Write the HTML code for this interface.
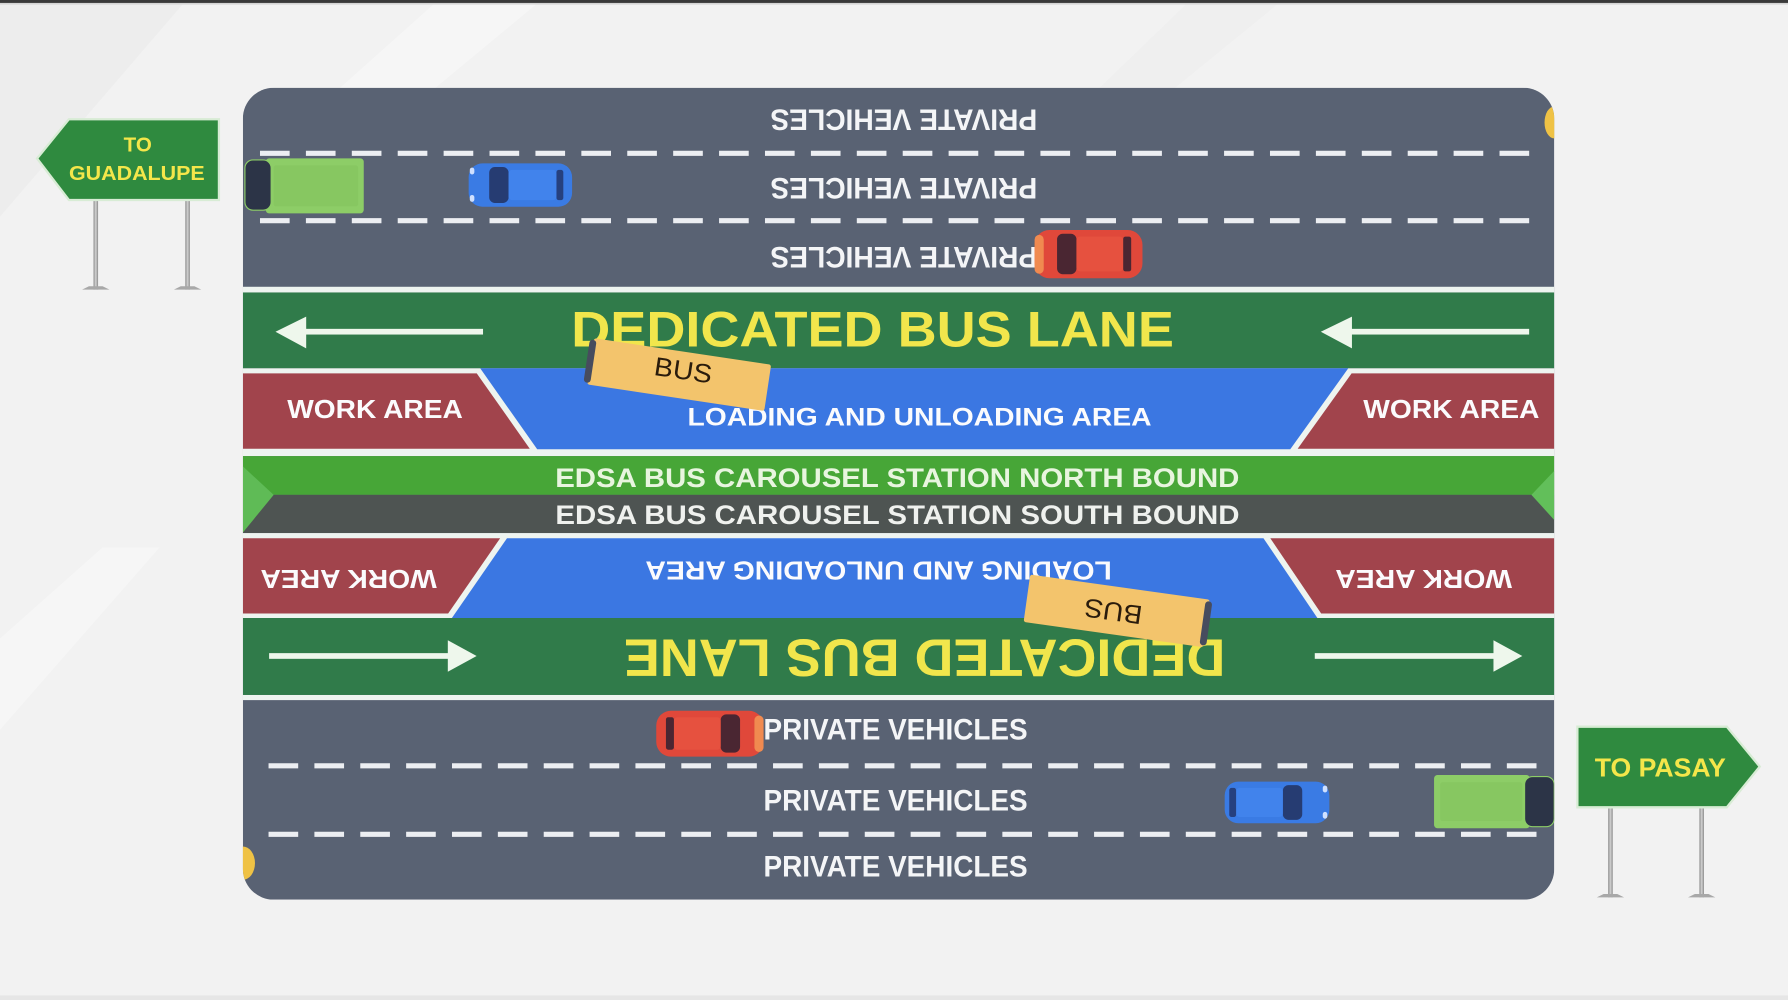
<!DOCTYPE html>
<html>
<head>
<meta charset="utf-8">
<style>
html,body{margin:0;padding:0;width:1788px;height:1000px;overflow:hidden;background:#f2f2f2}
svg{display:block}
text{font-family:"Liberation Sans",Arial,sans-serif;font-weight:bold}
</style>
</head>
<body>
<svg width="1788" height="1000" viewBox="0 0 1568 877" preserveAspectRatio="none" xmlns="http://www.w3.org/2000/svg">
<defs>
<clipPath id="road"><rect x="213" y="77" width="1150" height="712" rx="27" ry="27"/></clipPath>
<linearGradient id="pole" x1="0" x2="1" y1="0" y2="0">
<stop offset="0" stop-color="#8a8a8a"/><stop offset=".5" stop-color="#d2d2d2"/><stop offset="1" stop-color="#8a8a8a"/>
</linearGradient>
</defs>

<!-- background -->
<rect width="1568" height="877" fill="#f2f2f2"/>
<polygon points="0,4 160,4 0,190" fill="#e6e6e6" opacity=".35"/>
<polygon points="380,4 470,4 330,120 250,120" fill="#ffffff" opacity=".35"/>
<polygon points="1040,4 1120,4 990,110 930,110" fill="#e9e9e9" opacity=".25"/>
<polygon points="0,560 90,480 140,480 0,640" fill="#ffffff" opacity=".35"/>
<rect x="0" y="0" width="1568" height="2.6" fill="#3a3a3a"/>
<rect x="0" y="2.6" width="1568" height="1.4" fill="#d4d4d4"/>
<rect x="0" y="873" width="1568" height="4" fill="#e6e6e6"/>

<!-- road -->
<g clip-path="url(#road)">
<rect x="213" y="77" width="1150" height="712" fill="#596273"/>

<g stroke="#eceef2" stroke-width="4.5">
<line x1="228" y1="134.5" x2="1345" y2="134.5" stroke-dasharray="26 14.26"/>
<line x1="228" y1="193.5" x2="1345" y2="193.5" stroke-dasharray="26 14.26"/>
<line x1="235.5" y1="671.6" x2="1348" y2="671.6" stroke-dasharray="26 14.22"/>
<line x1="235.5" y1="731.7" x2="1348" y2="731.7" stroke-dasharray="26 14.22"/>
</g>

<rect x="213" y="251.5" width="1150" height="5" fill="#eef4f0"/>
<rect x="213" y="256.5" width="1150" height="66.5" fill="#307b4a"/>

<rect x="213" y="323" width="1150" height="77" fill="#eef4f0"/>
<polygon points="421.1,323 1182.4,323 1131.5,394 471.1,394" fill="#3b77e2"/>
<polygon points="213,327.5 418.1,327.5 464.6,393.5 213,393.5" fill="#a1444c"/>
<polygon points="1185.3,327.5 1363,327.5 1363,393.5 1138,393.5" fill="#a1444c"/>

<rect x="213" y="400" width="1150" height="34" fill="#47a637"/>
<rect x="213" y="434" width="1150" height="33.5" fill="#4e5452"/>
<polygon points="213,409 240,434 213,467" fill="#5fbb56"/>
<polygon points="1363,413 1343,434 1363,456" fill="#62bf5a"/>

<rect x="213" y="467.5" width="1150" height="74.5" fill="#eef4f0"/>
<polygon points="444.6,472 1108,472 1155.3,542 396.3,542" fill="#3b77e2"/>
<polygon points="213,472 438.6,472 393,538 213,538" fill="#a1444c"/>
<polygon points="1114,472 1363,472 1363,538 1158.6,538" fill="#a1444c"/>

<rect x="213" y="542" width="1150" height="67.5" fill="#307b4a"/>
<rect x="213" y="609.5" width="1150" height="4.5" fill="#eef4f0"/>

<g fill="#eef7ec">
<rect x="262" y="288.4" width="161.6" height="5"/>
<polygon points="241.6,290.9 268.5,277.7 268.5,305.5"/>
<rect x="1180" y="288.4" width="161" height="5"/>
<polygon points="1158.3,290.9 1185.6,277.7 1185.6,305.5"/>
<rect x="236" y="572.8" width="162" height="5"/>
<polygon points="418,575.3 392.7,561.5 392.7,589.1"/>
<rect x="1153" y="572.8" width="162" height="5"/>
<polygon points="1335,575.3 1309.7,561.5 1309.7,589.1"/>
</g>

<g fill="#f4f5f7" font-size="26">
<text x="792.6" y="114" text-anchor="middle" textLength="234" lengthAdjust="spacingAndGlyphs" transform="rotate(180 792.6 105)">PRIVATE VEHICLES</text>
<text x="792.6" y="174.2" text-anchor="middle" textLength="234" lengthAdjust="spacingAndGlyphs" transform="rotate(180 792.6 165.2)">PRIVATE VEHICLES</text>
<text x="792.6" y="234.8" text-anchor="middle" textLength="234" lengthAdjust="spacingAndGlyphs" transform="rotate(180 792.6 225.8)">PRIVATE VEHICLES</text>
<text x="785.4" y="648.4" text-anchor="middle" textLength="231.6" lengthAdjust="spacingAndGlyphs">PRIVATE VEHICLES</text>
<text x="785.4" y="711" text-anchor="middle" textLength="231.6" lengthAdjust="spacingAndGlyphs">PRIVATE VEHICLES</text>
<text x="785.4" y="768.8" text-anchor="middle" textLength="231.6" lengthAdjust="spacingAndGlyphs">PRIVATE VEHICLES</text>
</g>

<g fill="#f1e64c">
<text x="765.2" y="304" font-size="44" text-anchor="middle" textLength="528.5" lengthAdjust="spacingAndGlyphs">DEDICATED BUS LANE</text>
<text x="810.8" y="593.4" font-size="46" text-anchor="middle" textLength="527.5" lengthAdjust="spacingAndGlyphs" transform="rotate(180 810.8 577.2)">DEDICATED BUS LANE</text>
</g>

<g fill="#fbfbfd">
<text x="806.4" y="373" font-size="22" text-anchor="middle" textLength="407" lengthAdjust="spacingAndGlyphs">LOADING AND UNLOADING AREA</text>
<text x="770.5" y="509" font-size="23" text-anchor="middle" textLength="409" lengthAdjust="spacingAndGlyphs" transform="rotate(180 770.5 500.8)">LOADING AND UNLOADING AREA</text>
<text x="328.9" y="366.8" font-size="23" text-anchor="middle" textLength="154" lengthAdjust="spacingAndGlyphs">WORK AREA</text>
<text x="1272.8" y="366.8" font-size="23" text-anchor="middle" textLength="154.5" lengthAdjust="spacingAndGlyphs">WORK AREA</text>
<text x="305.7" y="515.8" font-size="23" text-anchor="middle" textLength="154.7" lengthAdjust="spacingAndGlyphs" transform="rotate(180 305.7 507.9)">WORK AREA</text>
<text x="1248.5" y="515.8" font-size="23" text-anchor="middle" textLength="155" lengthAdjust="spacingAndGlyphs" transform="rotate(180 1248.5 507.9)">WORK AREA</text>
</g>

<text x="786.9" y="426.9" font-size="23.5" fill="#e8f5df" text-anchor="middle" textLength="600" lengthAdjust="spacingAndGlyphs">EDSA BUS CAROUSEL STATION NORTH BOUND</text>
<text x="787" y="459.6" font-size="23.5" fill="#eff1ee" text-anchor="middle" textLength="600" lengthAdjust="spacingAndGlyphs">EDSA BUS CAROUSEL STATION SOUTH BOUND</text>

<ellipse cx="1363" cy="107.4" rx="8.5" ry="14" fill="#efc245"/>
<ellipse cx="213" cy="757" rx="10.6" ry="14.6" fill="#efc245"/>

<!-- top green truck -->
<rect x="233" y="138.9" width="86" height="48.2" rx="3" fill="#8dcd67"/>
<rect x="240" y="145" width="74" height="36" rx="2" fill="#84c45f" opacity=".7"/>
<rect x="214.8" y="140.3" width="23" height="44" rx="7" fill="#2c3447" stroke="#8dcd67" stroke-width="1"/>

<!-- top blue car -->
<rect x="411" y="143.3" width="90.7" height="38" rx="12" fill="#3a7be4"/>
<rect x="429" y="146.5" width="17" height="31.5" rx="5" fill="#263c72"/>
<rect x="446" y="149" width="42" height="26.5" rx="3" fill="#4183ec"/>
<rect x="488" y="149" width="6" height="26.5" rx="2" fill="#26407e"/>
<rect x="412" y="147" width="4" height="6" rx="2" fill="#cfe0ff"/>
<rect x="412" y="171" width="4" height="6" rx="2" fill="#cfe0ff"/>

<!-- top red car -->
<rect x="907.3" y="201.7" width="94.6" height="42.3" rx="13" fill="#e0483a"/>
<rect x="907.3" y="206" width="8" height="34" rx="4" fill="#f08a50"/>
<rect x="927" y="205" width="17" height="35.5" rx="5" fill="#4a2632"/>
<rect x="944" y="207.5" width="41" height="30.5" rx="3" fill="#e6513f"/>
<rect x="985" y="207.5" width="7" height="30.5" rx="2" fill="#4a2632"/>

<!-- bottom red car -->
<rect x="575.5" y="623.3" width="94.1" height="40.3" rx="13" fill="#e0483a"/>
<rect x="661.6" y="627.5" width="8" height="32" rx="4" fill="#f08a50"/>
<rect x="632" y="626.5" width="17" height="33.5" rx="5" fill="#4a2632"/>
<rect x="591" y="629" width="41" height="28.5" rx="3" fill="#e6513f"/>
<rect x="584" y="629" width="7" height="28.5" rx="2" fill="#4a2632"/>

<!-- bottom blue car -->
<rect x="1074" y="685.5" width="91.8" height="36.5" rx="12" fill="#3a7be4"/>
<rect x="1125" y="688.5" width="17" height="30.5" rx="5" fill="#263c72"/>
<rect x="1084" y="691" width="41" height="25.5" rx="3" fill="#4183ec"/>
<rect x="1078" y="691" width="6" height="25.5" rx="2" fill="#26407e"/>
<rect x="1160" y="689" width="4" height="6" rx="2" fill="#cfe0ff"/>
<rect x="1160" y="712" width="4" height="6" rx="2" fill="#cfe0ff"/>

<!-- bottom green truck -->
<rect x="1257.6" y="679.7" width="84" height="46.7" rx="3" fill="#8dcd67"/>
<rect x="1263" y="686" width="72" height="34" rx="2" fill="#84c45f" opacity=".7"/>
<rect x="1337" y="681" width="26" height="44" rx="7" fill="#2c3447" stroke="#8dcd67" stroke-width="1"/>

<!-- top bus -->
<g transform="translate(595.6 328.5) rotate(8.5)">
<rect x="-78.5" y="-20.5" width="157" height="41" rx="2" fill="#f3c46c"/>
<rect x="-82" y="-19" width="6" height="38" rx="3" fill="#474c5e"/>
<text x="3" y="3.6" font-size="23" style="font-weight:normal" fill="#2a1c0c" text-anchor="middle" textLength="51" lengthAdjust="spacingAndGlyphs">BUS</text>
</g>

<!-- bottom bus -->
<g transform="translate(979.3 535.7) rotate(8)">
<rect x="-79.5" y="-21" width="159" height="42" rx="2" fill="#f3c46c"/>
<rect x="76" y="-19.5" width="6" height="39" rx="3" fill="#474c5e"/>
<text x="-2.9" y="9.2" font-size="23" style="font-weight:normal" fill="#2a1c0c" text-anchor="middle" textLength="51" lengthAdjust="spacingAndGlyphs" transform="rotate(180 -2.9 1.1)">BUS</text>
</g>
</g>

<!-- left sign -->
<rect x="82" y="175" width="4" height="79" fill="url(#pole)"/>
<rect x="162.5" y="175" width="4" height="79" fill="url(#pole)"/>
<path d="M72 254 L96 254 L90 251 L78 251 Z" fill="#a8a8a8"/>
<path d="M152.5 254 L176.5 254 L170.5 251 L158.5 251 Z" fill="#a8a8a8"/>
<polygon points="32.5,139 60.4,104.6 192,104.6 192,175.4 60.4,175.4" fill="#2f8a3f" stroke="#d8ecd5" stroke-width="2"/>
<text x="120.8" y="133" font-size="18" fill="#f4e64a" text-anchor="middle">TO</text>
<text x="120" y="158" font-size="18" fill="#f4e64a" text-anchor="middle" textLength="119" lengthAdjust="spacingAndGlyphs">GUADALUPE</text>

<!-- right sign -->
<rect x="1410.3" y="707" width="4" height="80" fill="url(#pole)"/>
<rect x="1490.3" y="707" width="4" height="80" fill="url(#pole)"/>
<path d="M1400.3 787 L1424.3 787 L1418.3 784 L1406.3 784 Z" fill="#a8a8a8"/>
<path d="M1480.3 787 L1504.3 787 L1498.3 784 L1486.3 784 Z" fill="#a8a8a8"/>
<polygon points="1383.3,637.3 1514.3,637.3 1543.2,672.3 1514.3,708 1383.3,708" fill="#2f8a3f" stroke="#d8ecd5" stroke-width="2"/>
<text x="1456" y="681" font-size="23" fill="#f4e64a" text-anchor="middle" textLength="115" lengthAdjust="spacingAndGlyphs">TO PASAY</text>
</svg>
</body>
</html>
